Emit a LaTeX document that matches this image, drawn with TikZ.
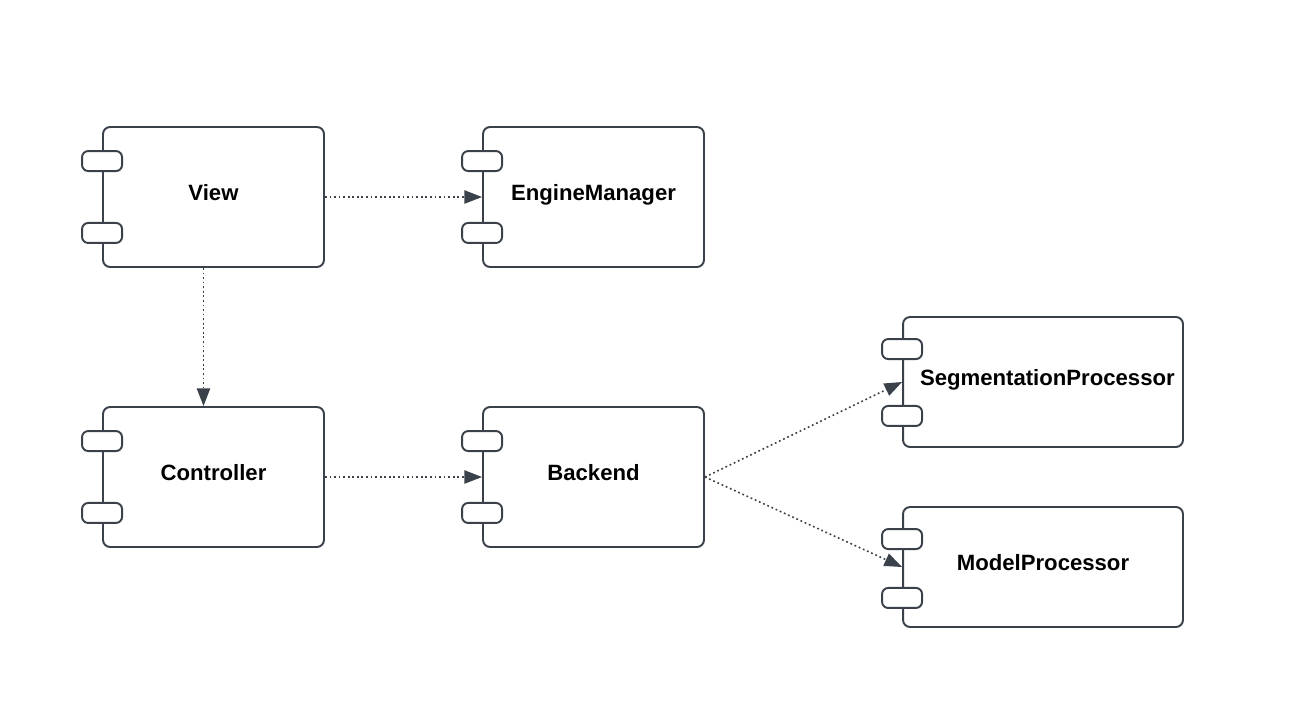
\documentclass[tikz,border=0pt]{standalone}
\usepackage{fontspec}
\setmainfont{Liberation Sans}
\usetikzlibrary{arrows.meta}
\definecolor{edge}{HTML}{3A414A}
\tikzset{
  comp/.style={draw=edge, line width=1.1pt, rounded corners=4pt, fill=white,
    font=\bfseries\fontsize{12.6}{14}\selectfont, text=black,
    text height=9pt, text depth=4.6pt},
  port/.style={draw=edge, line width=1.1pt, rounded corners=3.5pt, fill=white},
  dep/.style={draw=edge, line width=0.9pt, dash pattern=on 1pt off 1.6pt,
    -{Triangle[length=10pt,width=7.5pt,sep=0pt]}}
}
\begin{document}
\begin{tikzpicture}[x=0.02cm, y=-0.02cm]
\useasboundingbox (0,0) rectangle (1295,707);
% components
\node[comp, minimum width=4.42cm, minimum height=2.8cm] (view) at (213.5,197) {View};
\node[comp, minimum width=4.42cm, minimum height=2.8cm] (engine) at (593.5,197) {EngineManager};
\node[comp, minimum width=4.42cm, minimum height=2.8cm] (ctrl) at (213.5,477) {Controller};
\node[comp, minimum width=4.42cm, minimum height=2.8cm] (backend) at (593.5,477) {Backend};
\node[comp, minimum width=5.6cm, minimum height=2.6cm] (segproc) at (1043,382) {\hspace*{5pt}SegmentationProcessor};
\node[comp, minimum width=5.6cm, minimum height=2.4cm] (modelproc) at (1043,567) {ModelProcessor};
% ports on the left side
\foreach \n/\a/\b in {view/35/35, engine/35/35, ctrl/35/35, backend/35/35,
    segproc/33/32, modelproc/33/30} {
  \draw[port] ([yshift=-\a*0.02cm]\n.north west) ++(-20,-10) rectangle ++(40,20);
  \draw[port] ([yshift=\b*0.02cm]\n.south west) ++(-20,-10) rectangle ++(40,20);
}
% dependencies
\draw[dep] (view.east) -- (engine.west);
\draw[dep] ([xshift=-0.2cm]view.south) -- ([xshift=-0.2cm]ctrl.north);
\draw[dep] (ctrl.east) -- (backend.west);
\draw[dep] (backend.east) -- (segproc.west);
\draw[dep] (backend.east) -- (modelproc.west);
\end{tikzpicture}
\end{document}
